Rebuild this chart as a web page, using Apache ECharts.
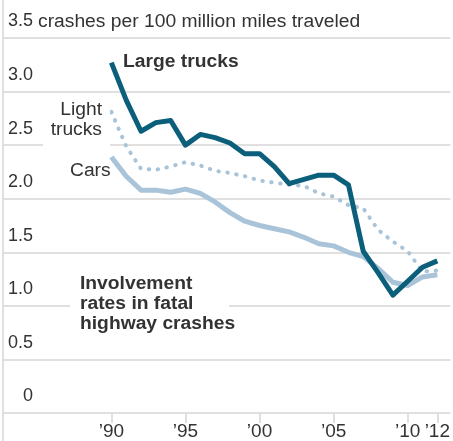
<!DOCTYPE html>
<html>
<head>
<meta charset="utf-8">
<script src="https://cdn.jsdelivr.net/npm/echarts@6/dist/echarts.min.js"></script>
<style>
  html, body { margin: 0; padding: 0; background: #fff; }
  #chart { width: 453px; height: 441px; }
</style>
</head>
<body>
<div id="chart"></div>
<script>
// Involvement rates in fatal highway crashes, per 100 million miles traveled
const years = [1990, 1991, 1992, 1993, 1994, 1995, 1996, 1997, 1998, 1999, 2000,
  2001, 2002, 2003, 2004, 2005, 2006, 2007, 2008, 2009, 2010, 2011, 2012];
const largeTrucks = [3.27, 2.92, 2.63, 2.71, 2.73, 2.50, 2.60, 2.57, 2.52, 2.42, 2.42,
  2.30, 2.14, 2.18, 2.22, 2.22, 2.13, 1.51, 1.31, 1.10, 1.23, 1.36, 1.42];
const lightTrucks = [2.81, 2.49, 2.28, 2.27, 2.30, 2.34, 2.31, 2.26, 2.24, 2.21, 2.17,
  2.15, 2.13, 2.12, 2.05, 2.02, 1.94, 1.91, 1.71, 1.60, 1.51, 1.32, 1.33];
const cars = [2.39, 2.21, 2.08, 2.08, 2.06, 2.09, 2.05, 1.97, 1.87, 1.79, 1.75,
  1.72, 1.69, 1.64, 1.58, 1.56, 1.50, 1.46, 1.35, 1.22, 1.19, 1.27, 1.29];
const xTicks = [1990, 1995, 2000, 2005, 2010, 2012];

const FONT = '"Liberation Sans", Arial, sans-serif';
const INK = '#333';
const GRID = '#d6d6d6';
const DARK = '#0b5f7a';
const LIGHT = '#a9c4d9';
const SX = 1.07; // reference type runs a little wide

const pairs = (vals) => years.map((y, i) => [y, vals[i]]);

// annotation text helper (vertically centred on the cap height)
function label(x, y, text, opts) {
  return Object.assign({
    type: 'text', x: x, y: y, scaleX: SX, z: 10,
    style: Object.assign({ text: text, fill: INK, font: '18px ' + FONT, verticalAlign: 'middle' }, opts || {}),
  });
}

const chart = echarts.init(document.getElementById('chart'), null, { renderer: 'canvas' });
chart.setOption({
  animation: false,
  backgroundColor: '#fff',
  textStyle: { fontFamily: FONT },
  grid: { left: 3, right: 0, top: 38, bottom: 28, containLabel: false },
  xAxis: {
    type: 'value', min: 1982.685, max: 2012.886,
    splitLine: { show: false },
    axisLine: { show: false },
    axisTick: { show: true, length: 10, lineStyle: { color: GRID, width: 1.5 }, customValues: xTicks },
    axisLabel: {
      color: INK, fontSize: 19, fontFamily: FONT, margin: 9, customValues: xTicks,
      formatter: (v) => '\u2019' + String(v).slice(2),
    },
  },
  yAxis: {
    type: 'value', min: 0, max: 3.5, interval: 0.5,
    axisLine: { show: false }, axisTick: { show: false },
    splitLine: { lineStyle: { color: GRID, width: 1.5 } },
    axisLabel: {
      inside: true, align: 'right', margin: 30, verticalAlign: 'bottom',
      padding: [0, 0, 7.5, 0], color: INK, fontSize: 18, fontFamily: FONT,
      formatter: (v) => (v === 0 ? '0' : v.toFixed(1)),
    },
  },
  series: [
    { name: 'Cars', type: 'line', data: pairs(cars), showSymbol: false, z: 2,
      lineStyle: { color: LIGHT, width: 5, join: 'round' } },
    { name: 'Light trucks', type: 'line', data: pairs(lightTrucks), showSymbol: false, z: 3,
      lineStyle: { color: LIGHT, width: 4, type: [0.5, 8.5], cap: 'round' } },
    { name: 'Large trucks', type: 'line', data: pairs(largeTrucks), showSymbol: false, z: 4,
      lineStyle: { color: DARK, width: 5, join: 'round' } },
  ],
  graphic: [
    { type: 'line', shape: { x1: 3, y1: 0, x2: 3, y2: 441 }, style: { stroke: GRID, lineWidth: 1.5 }, z: 1 },
    label(38, 22, 'crashes per 100 million miles traveled'),
    label(123, 62, 'Large trucks', { font: 'bold 18px ' + FONT }),
    { type: 'rect', shape: { x: 43, y: 96, width: 67, height: 54 }, style: { fill: '#fff' }, z: 5 },
    label(102, 120, 'Light\ntrucks', { align: 'right', lineHeight: 20.5 }),
    label(70, 171, 'Cars'),
    { type: 'rect', shape: { x: 70, y: 272, width: 159, height: 62 }, style: { fill: '#fff' }, z: 5 },
    label(80, 304.5, 'Involvement\nrates in fatal\nhighway crashes', { font: 'bold 18px ' + FONT, lineHeight: 20 }),
  ],
});
</script>
</body>
</html>
